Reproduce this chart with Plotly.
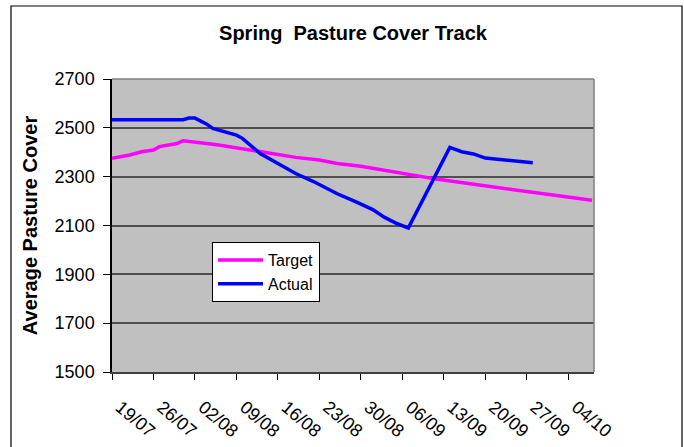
import plotly.graph_objects as go

# ---- data ----
tick_dates = ["2010-07-19", "2010-07-26", "2010-08-02", "2010-08-09", "2010-08-16", "2010-08-23",
              "2010-08-30", "2010-09-06", "2010-09-13", "2010-09-20", "2010-09-27", "2010-10-04"]
tick_labels = ["19/07", "26/07", "02/08", "09/08", "16/08", "23/08",
               "30/08", "06/09", "13/09", "20/09", "27/09", "04/10"]

target_dates = ["2010-07-19", "2010-07-22", "2010-07-24", "2010-07-26", "2010-07-27", "2010-07-30",
                "2010-07-31", "2010-08-02", "2010-08-04", "2010-08-06", "2010-08-09", "2010-08-11",
                "2010-08-13", "2010-08-16", "2010-08-19", "2010-08-23", "2010-08-26", "2010-08-30",
                "2010-09-02", "2010-09-05", "2010-09-09", "2010-09-12", "2010-09-15", "2010-09-19",
                "2010-09-22", "2010-09-25", "2010-09-29", "2010-10-03", "2010-10-08"]
target_vals = [2375, 2389, 2402, 2409, 2423, 2436, 2447, 2443, 2436, 2430, 2418, 2413,
               2402, 2391, 2379, 2368, 2354, 2343, 2330, 2316, 2302, 2289, 2279, 2266,
               2255, 2245, 2234, 2221, 2203]

actual_dates = ["2010-07-19", "2010-07-31", "2010-08-01", "2010-08-02", "2010-08-04", "2010-08-05",
                "2010-08-09", "2010-08-10", "2010-08-13", "2010-08-17", "2010-08-19", "2010-08-22",
                "2010-08-24", "2010-08-26", "2010-08-29", "2010-09-01", "2010-09-03", "2010-09-05",
                "2010-09-07", "2010-09-14", "2010-09-16", "2010-09-18", "2010-09-20", "2010-09-22",
                "2010-09-24", "2010-09-27", "2010-09-28"]
actual_vals = [2533, 2533, 2540, 2540, 2515, 2498, 2470, 2457, 2395, 2341, 2313, 2280,
               2253, 2230, 2199, 2165, 2133, 2109, 2090, 2420, 2402, 2393, 2376, 2371,
               2367, 2360, 2357]

y_ticks = [1500, 1700, 1900, 2100, 2300, 2500, 2700]

FONT = "Arial, 'Liberation Sans', sans-serif"

fig = go.Figure()
fig.add_trace(go.Scatter(x=target_dates, y=target_vals, mode="lines", name="Target",
                         line=dict(color="#FF00FF", width=3.5)))
fig.add_trace(go.Scatter(x=actual_dates, y=actual_vals, mode="lines", name="Actual",
                         line=dict(color="#0000FF", width=3.5)))

L, R, T, B = 112, 90, 79, 75
PW, PH = 684 - L - R, 447 - T - B

fig.update_layout(
    width=684, height=447,
    margin=dict(l=L, r=R, t=T, b=B, autoexpand=False),
    paper_bgcolor="white",
    plot_bgcolor="#C0C0C0",
    font=dict(family=FONT, color="black"),
    title=dict(text="<b>Spring  Pasture Cover Track</b>", x=(L + PW / 2) / 684, xanchor="center",
               y=1 - 33 / 447, yanchor="middle", font=dict(size=20, family=FONT)),
    showlegend=True,
    legend=dict(x=(212 - L) / PW, y=1 - (242 - T) / PH, xanchor="left", yanchor="top",
                bgcolor="white", bordercolor="black", borderwidth=1,
                itemwidth=45, entrywidth=60, entrywidthmode="pixels",
                font=dict(size=16, family=FONT)),
    xaxis=dict(
        type="date",
        range=["2010-07-19", "2010-10-08 08:00"],
        tickvals=tick_dates, ticktext=tick_labels,
        tickangle=40, tickfont=dict(size=18, family=FONT),
        ticklabelshift=8, ticklabelstandoff=10,
        ticks="outside", ticklen=6, tickcolor="black", tickwidth=1,
        showgrid=False, zeroline=False, automargin=False,
        showline=True, linecolor="#404040", linewidth=1.5,
    ),
    yaxis=dict(
        range=[1500, 2700],
        tickvals=y_ticks,
        tickfont=dict(size=18, family=FONT),
        ticks="outside", ticklen=7, tickcolor="black", tickwidth=1,
        ticklabelstandoff=5, automargin=False,
        showgrid=True, gridcolor="#505050", gridwidth=1.6,
        zeroline=False,
        showline=True, linecolor="black", linewidth=1.5,
        title=dict(text="<b>Average Pasture Cover</b>", font=dict(size=20, family=FONT), standoff=12),
    ),
    shapes=[
        dict(type="line", xref="paper", yref="paper", x0=1, x1=1, y0=0, y1=1,
             line=dict(color="#808080", width=1.5), layer="above"),
        dict(type="line", xref="paper", yref="paper", x0=0, x1=1, y0=1, y1=1,
             line=dict(color="#808080", width=1.5), layer="above"),
        dict(type="rect", xref="paper", yref="paper",
             x0=(11 - L) / PW, x1=(682 - L) / PW,
             y0=1 - (460 - T) / PH, y1=1 + (T - 6) / PH,
             line=dict(color="black", width=1.2), fillcolor="rgba(0,0,0,0)", layer="above"),
    ],
)

fig.write_html("out.html",
               config={"displayModeBar": False},
               post_script="document.body.style.margin='0';document.body.style.overflow='hidden';")
